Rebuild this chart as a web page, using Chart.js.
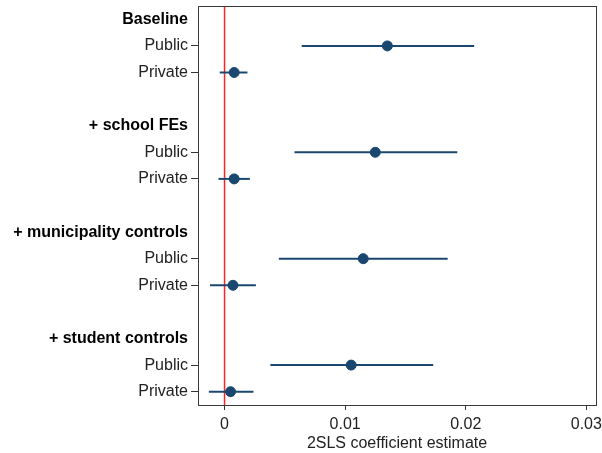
<!DOCTYPE html>
<html>
<head>
<meta charset="utf-8">
<script src="https://cdn.jsdelivr.net/npm/chart.js@4/dist/chart.umd.min.js"></script>
<style>
    html, body { margin: 0; padding: 0; background: #fff; }
    #wrap { width: 602px; height: 453px; }
</style>
</head>
<body>
<div id="wrap"><canvas id="coefChart"></canvas></div>
<script>
const groups = ["Baseline", "+ school FEs", "+ municipality controls", "+ student controls"];
const sectors = ["Public", "Private"];

const publicEst = [0.0135, 0.0125, 0.0115, 0.0105];
const publicLow = [0.0064, 0.0058, 0.0045, 0.0038];
const publicHigh = [0.0207, 0.0193, 0.0185, 0.0173];

const privateEst = [0.0008, 0.0008, 0.0007, 0.0005];
const privateLow = [-0.0004, -0.0005, -0.0012, -0.0013];
const privateHigh = [0.0019, 0.0021, 0.0026, 0.0024];

const xTicks = [0, 0.01, 0.02, 0.03];
const xTitle = "2SLS coefficient estimate";

const navy = "#1a476f";
const fontFamily = "'Liberation Sans', Arial, sans-serif";

// each group takes 4 rows: header, Public, Private, blank
const rowLabels = {};
const headerRows = [];
const points = [];
const bars = [];
groups.forEach((g, i) => {
    const head = i * 4;
    headerRows.push(head);
    rowLabels[head] = g;
    const rows = [
        [publicEst[i], publicLow[i], publicHigh[i]],
        [privateEst[i], privateLow[i], privateHigh[i]]
    ];
    rows.forEach((r, j) => {
        const y = head + 1 + j;
        rowLabels[y] = sectors[j];
        points.push({ x: r[0], y: y });
        bars.push({
            data: [{ x: r[1], y: y }, { x: r[2], y: y }],
            showLine: true,
            borderColor: navy,
            borderWidth: 2,
            pointRadius: 0,
            order: 1
        });
    });
});

function isHeader(ctx) {
    return !!(ctx && ctx.tick && headerRows.includes(ctx.tick.value));
}

const frame = {
    id: "frame",
    afterDraw(chart) {
        const a = chart.chartArea;
        const ctx = chart.ctx;
        ctx.save();
        ctx.strokeStyle = "#3a3a3a";
        ctx.lineWidth = 1;
        ctx.strokeRect(Math.round(a.left) + 0.5, Math.round(a.top) + 0.5,
            Math.round(a.right - a.left), Math.round(a.bottom - a.top));
        ctx.restore();
    }
};

new Chart(document.getElementById("coefChart"), {
    type: "scatter",
    data: {
        datasets: [
            {
                data: points,
                backgroundColor: navy,
                borderColor: navy,
                pointRadius: 5,
                order: 0
            },
            ...bars,
            {
                data: [{ x: 0, y: -0.5 }, { x: 0, y: 14.5 }],
                showLine: true,
                borderColor: "#ff2020",
                borderWidth: 1.5,
                pointRadius: 0,
                order: 2
            }
        ]
    },
    options: {
        responsive: true,
        maintainAspectRatio: false,
        animation: false,
        layout: { padding: { top: 6, right: 3, left: 0, bottom: 0 } },
        plugins: {
            legend: { display: false },
            tooltip: { enabled: false }
        },
        scales: {
            x: {
                type: "linear",
                min: -0.0022,
                max: 0.0308,
                afterBuildTicks: scale => { scale.ticks = xTicks.map(v => ({ value: v })); },
                afterFit: scale => {
                    scale.height = 48;
                    scale.paddingLeft = 0;
                    scale.paddingRight = 0;
                },
                border: { display: false },
                grid: { drawOnChartArea: false, tickLength: 5, color: "#333" },
                ticks: {
                    color: "#222",
                    padding: 5,
                    maxRotation: 0,
                    font: { family: fontFamily, size: 16 },
                    callback: v => String(v)
                },
                title: {
                    display: true,
                    text: xTitle,
                    color: "#222",
                    padding: { top: 0, bottom: 0 },
                    font: { family: fontFamily, size: 16 }
                }
            },
            y: {
                type: "linear",
                reverse: true,
                min: -0.5,
                max: 14.5,
                afterBuildTicks: scale => {
                    scale.ticks = Object.keys(rowLabels).map(k => ({ value: Number(k) }));
                },
                afterFit: scale => {
                    scale.width = 198;
                    scale.paddingTop = 0;
                    scale.paddingBottom = 0;
                },
                border: { display: false },
                grid: {
                    drawOnChartArea: false,
                    tickLength: 7,
                    color: ctx => isHeader(ctx) ? "rgba(0,0,0,0)" : "#333"
                },
                ticks: {
                    padding: 3,
                    autoSkip: false,
                    color: ctx => isHeader(ctx) ? "#000" : "#222",
                    font: ctx => ({
                        family: fontFamily,
                        size: 16,
                        weight: isHeader(ctx) ? "bold" : "normal"
                    }),
                    callback: v => rowLabels[v]
                }
            }
        }
    },
    plugins: [frame]
});
</script>
</body>
</html>
